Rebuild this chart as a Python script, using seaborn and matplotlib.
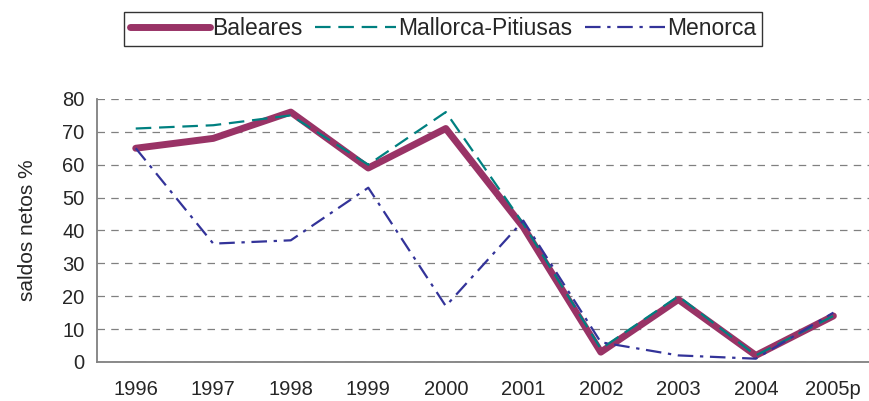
import matplotlib
matplotlib.use("Agg")
import matplotlib.pyplot as plt
import pandas as pd
import seaborn as sns

years = ["1996", "1997", "1998", "1999", "2000", "2001", "2002", "2003", "2004", "2005p"]
baleares = [65, 68, 76, 59, 71, 41, 3, 19, 2, 14]
mallorca = [71, 72, 75, 60, 76, 42, 4, 20, 2, 14]
menorca = [65, 36, 37, 53, 17, 43, 6, 2, 1, 15]

sns.set_style("white")
plt.rcParams['font.family'] = ['Liberation Sans', 'DejaVu Sans']

df = pd.DataFrame({"year": years, "Baleares": baleares,
                   "Mallorca-Pitiusas": mallorca, "Menorca": menorca})

fig = plt.figure(figsize=(8.69, 4.01), dpi=100)
ax = fig.add_axes([0.1116, 0.0973, 0.892, 0.656])

sns.lineplot(data=df, x="year", y="Baleares", ax=ax, color="#993366",
             linewidth=5, label="Baleares", solid_capstyle="round")
sns.lineplot(data=df, x="year", y="Mallorca-Pitiusas", ax=ax, color="#008080",
             linewidth=1.6, label="Mallorca-Pitiusas")
sns.lineplot(data=df, x="year", y="Menorca", ax=ax, color="#333399",
             linewidth=1.6, label="Menorca")
ax.lines[1].set_dashes([7, 3.5])
ax.lines[2].set_dashes([7, 3, 1.5, 3])

ax.set_xlim(-0.5, 9.5)
ax.set_ylim(0, 80)
ax.set_yticks(range(0, 81, 10))
ax.set_xticks([i + 0.5 for i in range(-1, 10)])
ax.set_xticklabels([])
ax.set_xticks(range(10), minor=True)
ax.set_xticklabels(years, minor=True)
ax.tick_params(axis="x", which="major", length=6, width=1, color="#404040", direction="out")
ax.tick_params(axis="x", which="minor", length=0, labelsize=14.5, pad=13)
ax.tick_params(axis="y", length=6, width=1, color="#404040", direction="out",
               labelsize=14.5, pad=3)
ax.set_xlabel("")
ax.set_ylabel("saldos netos %", fontsize=15, labelpad=18)

ax.grid(axis="y", color="#808080", linestyle=(0, (6, 5)), linewidth=0.9)
ax.grid(axis="x", visible=False)
for s in ["top", "right"]:
    ax.spines[s].set_visible(False)
for s in ["left", "bottom"]:
    ax.spines[s].set_color("#808080")
    ax.spines[s].set_linewidth(1.3)

handles, labels = ax.get_legend_handles_labels()
ax.get_legend().remove()
leg = fig.legend(handles, labels, loc="upper center", bbox_to_anchor=(0.5098, 0.971),
                 ncol=3, fontsize=16.5, frameon=True, fancybox=False,
                 handlelength=3.5, handletextpad=0.1, columnspacing=0.55,
                 borderpad=0.25, borderaxespad=0)
leg.get_frame().set_edgecolor("black")
leg.get_frame().set_linewidth(1.0)

fig.savefig("out.png", dpi=100)
